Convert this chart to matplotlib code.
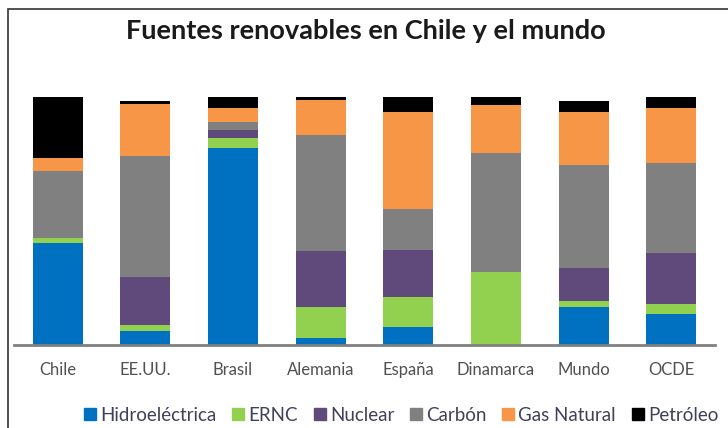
import matplotlib.pyplot as plt
from matplotlib.patches import Rectangle
from matplotlib.lines import Line2D
import numpy as np

plt.rcParams['font.family'] = ['Lato', 'DejaVu Sans']

paises = ["Chile", "EE.UU.", "Brasil", "Alemania", "España", "Dinamarca", "Mundo", "OCDE"]
fuentes = ["Hidroeléctrica", "ERNC", "Nuclear", "Carbón", "Gas Natural", "Petróleo"]
colores = ["#0070C0", "#92D050", "#604A7B", "#808080", "#F79646", "#000000"]

# porcentajes
hidro = [41.3, 5.5, 79.6, 2.7, 7.1, 0.0, 15.2, 12.5]
ernc = [2.0, 2.4, 3.8, 12.7, 12.3, 29.6, 2.7, 3.9]
nuclear = [0.0, 19.4, 3.1, 22.6, 19.0, 0.0, 13.1, 20.8]
carbon = [26.9, 48.9, 3.4, 46.7, 16.4, 48.0, 41.7, 36.3]
gas = [5.1, 21.0, 5.6, 14.1, 39.2, 19.2, 21.1, 21.9]
petroleo = [24.6, 1.3, 4.4, 1.3, 6.2, 3.1, 4.4, 4.4]

series = [hidro, ernc, nuclear, carbon, gas, petroleo]

fig = plt.figure(figsize=(7.28, 4.28), dpi=100)
ax = fig.add_axes([14 / 728, 83 / 428, 701 / 728, 248 / 428])

x = np.arange(len(paises))
base = np.zeros(len(paises))
for vals, col, nom in zip(series, colores, fuentes):
    ax.bar(x, vals, 0.57, bottom=base, color=col, label=nom, zorder=2)
    base += np.array(vals)

ax.set_xlim(-0.5, 7.5)
ax.set_ylim(0, 100)
ax.set_yticks([])
for s in ["top", "right", "left"]:
    ax.spines[s].set_visible(False)
ax.spines["bottom"].set_color("#808080")
ax.spines["bottom"].set_linewidth(2)
ax.set_xticks(x)
ax.set_xticklabels(paises, fontsize=12, color="#505050")
ax.tick_params(axis="x", length=0, pad=12)

fig.text(0.502, 0.927, "Fuentes renovables en Chile y el mundo", ha="center", va="center",
         fontsize=19.5, fontweight="bold", color="#1a1a1a")

handles = [Line2D([], [], marker="s", linestyle="none", markersize=9, color=c) for c in colores]
fig.legend(handles, fuentes, loc="center", bbox_to_anchor=(0.552, 0.03), ncol=6, frameon=False,
           fontsize=13.5, handlelength=0.5, handletextpad=0.3, columnspacing=0.9,
           labelcolor="#40405a", borderpad=0, borderaxespad=0)

fig.patches.append(Rectangle((8 / 728, -0.1), 1.2, 1 - 9 / 428 + 0.1, transform=fig.transFigure,
                             fill=False, edgecolor="#333333", linewidth=1.2))

plt.savefig("out.png", dpi=100)
